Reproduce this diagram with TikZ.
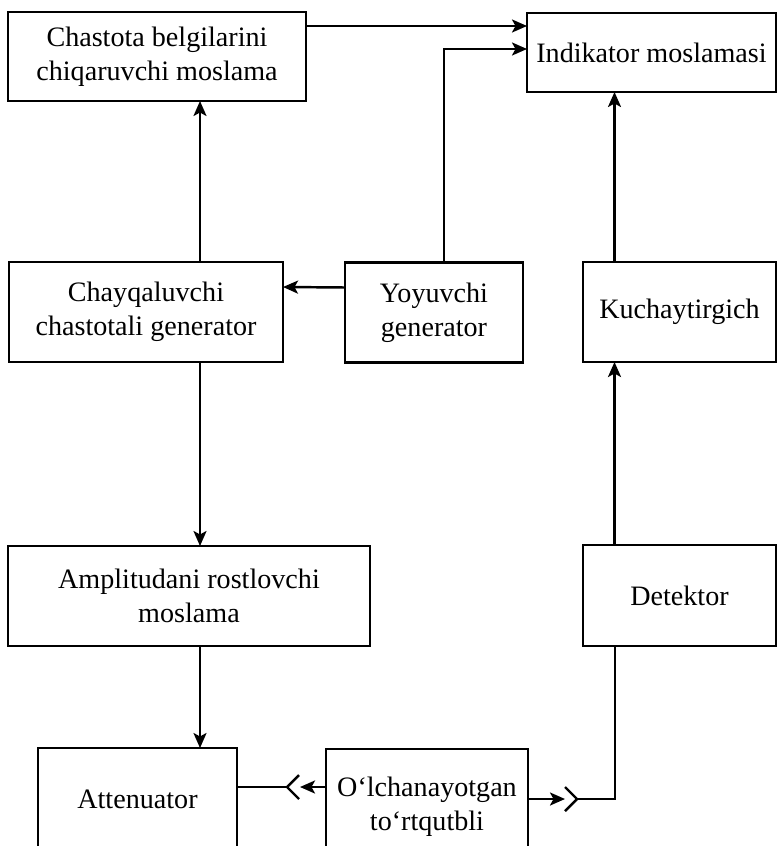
\documentclass[tikz,border=0pt]{standalone}
\usepackage{fontspec}
\setmainfont{Liberation Serif}
\usetikzlibrary{arrows.meta}
\usetikzlibrary{positioning}
\tikzset{every node/.style={inner sep=0pt, outer sep=0pt}}
\tikzset{blk/.style={draw=black, line width=1.4pt, fill=none, align=center, font=\fontsize{16}{19.5}\selectfont}}
\tikzset{arr/.style={line width=1.4pt, -{Stealth[length=0.3cm,width=0.26cm,inset=0.07cm]}}}

\begin{document}
\begin{tikzpicture}

    \clip (0,0) rectangle (15.56,-16.92);

    \node[blk,minimum width=5.96cm,minimum height=1.78cm] (Chast) at (3.14,-1.13) {Chastota belgilarini\\chiqaruvchi moslama};
    \node[blk,minimum width=4.98cm,minimum height=1.58cm] (Indik) at (13.03,-1.05) {Indikator moslamasi};

    \node[blk,minimum width=5.48cm,minimum height=2cm] (Chay) at (2.92,-6.24) {Chayqaluvchi\\chastotali generator};
    \node[blk,minimum width=3.56cm,minimum height=2cm] (Yoy) at (8.68,-6.25) {Yoyuvchi\\generator};
    \node[blk,minimum width=3.86cm,minimum height=2cm] (Kuch) at (13.59,-6.24) {Kuchaytirgich};

    \node[blk,minimum width=7.24cm,minimum height=2cm] (Ampl) at (3.78,-11.92) {Amplitudani rostlovchi\\moslama};
    \node[blk,minimum width=3.86cm,minimum height=2.02cm] (Det) at (13.59,-11.91) {Detektor};

    \node[blk,minimum width=3.98cm,text height=1.2cm,text depth=1.0cm,anchor=north] (Att) at (2.75,-14.96) {Attenuator};
    \node[blk,minimum width=4.04cm,inner ysep=0.55cm,anchor=north] (Olch) at (8.54,-14.98) {O‘lchanayotgan\\to‘rtqutbli};

    % upper part
    \coordinate (c1) at ([yshift=0.61cm]Chast.east);
    \draw[arr] (c1) -- (c1 -| Indik.west);
    \draw[arr] ([xshift=0.2cm]Yoy.north) |- ([yshift=0.07cm]Indik.west);
    \coordinate (c2) at ([xshift=1.08cm]Chay.north);
    \draw[arr] (c2) -- (c2 |- Chast.south);
    \draw[arr] ([yshift=0.5cm]Yoy.west) -- ([yshift=0.5cm]Chay.east);
    \coordinate (c3) at ([xshift=-1.3cm]Kuch.north);
    \draw[arr] (c3) -- (c3 |- Indik.south);

    % lower part
    \coordinate (c4) at ([xshift=1.08cm]Chay.south);
    \draw[arr] (c4) -- (c4 |- Ampl.north);
    \coordinate (c5) at ([xshift=0.22cm]Ampl.south);
    \draw[arr] (c5) -- (c5 |- Att.north);
    \coordinate (c6) at ([xshift=-1.3cm]Det.north);
    \draw[arr] (c6) -- (c6 |- Kuch.south);

    % connectors of the measured four-pole
    \coordinate (j1) at (5.74,-15.74);
    \draw[line width=1.4pt] (j1 -| Att.east) -- (j1);
    \draw[line width=1.4pt] (5.98,-15.5) -- (j1) -- (5.98,-15.98);
    \draw[arr] (Olch.west |- j1) -- (6.0,-15.74);

    \coordinate (j2) at (11.54,-15.98);
    \draw[arr] (Olch.east |- j2) -- (11.3,-15.98);
    \draw[line width=1.4pt] (11.3,-15.74) -- (j2) -- (11.3,-16.22);
    \draw[line width=1.4pt] (j2) -- (12.3,-15.98) -- (12.3,-15.98 |- Det.south);

\end{tikzpicture}
\end{document}
